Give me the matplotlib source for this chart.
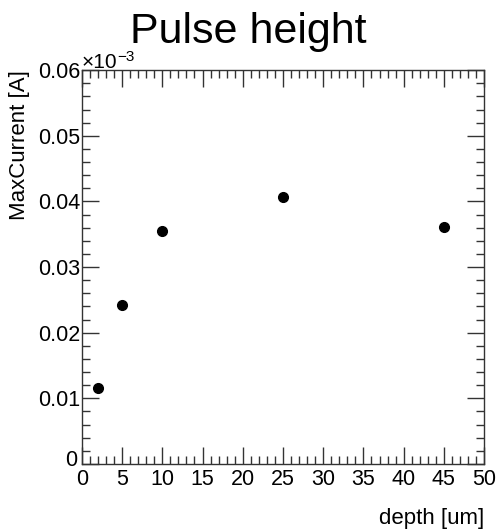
import matplotlib
matplotlib.use("Agg")
import matplotlib.pyplot as plt
import matplotlib.transforms as mtransforms
from matplotlib.ticker import MultipleLocator

# data (y in units of 1e-3 A, as the axis shows)
depth = [2, 5, 10, 25, 45]
max_current = [0.0116, 0.0242, 0.0355, 0.0407, 0.0361]
x_ticks = [0, 5, 10, 15, 20, 25, 30, 35, 40, 45, 50]
y_ticks = [0, 0.01, 0.02, 0.03, 0.04, 0.05, 0.06]
y_tick_labels = ['0', '0.01', '0.02', '0.03', '0.04', '0.05', '0.06']

plt.rcParams['font.family'] = ['Liberation Sans', 'DejaVu Sans']

fig = plt.figure(figsize=(4.96, 5.32), dpi=100)
ax = fig.add_axes([0.165, 0.128, 0.811, 0.74])

ax.plot(depth, max_current, 'o', color='black', markersize=7)

ax.set_xlim(0, 50)
ax.set_ylim(0, 0.06)

ax.set_xticks(x_ticks)
ax.set_xticklabels([str(v) for v in x_ticks])
ax.xaxis.set_minor_locator(MultipleLocator(1))
ax.set_yticks(y_ticks)
ax.set_yticklabels(y_tick_labels)
ax.yaxis.set_minor_locator(MultipleLocator(0.002))

ax.tick_params(which='both', direction='in', top=True, right=True,
               labelsize=15.5, width=1, color='#333333')
ax.tick_params(which='major', length=12)
ax.tick_params(which='minor', length=6)
ax.tick_params(axis='x', pad=4)
ax.tick_params(axis='y', pad=1)
for s in ax.spines.values():
    s.set_color('#333333')
    s.set_linewidth(1)

# nudge the y "0" up a little, as ROOT does
lab0 = ax.get_yticklabels()[0]
lab0.set_transform(lab0.get_transform() +
                   mtransforms.ScaledTranslation(-2 / 72, 4 / 72, fig.dpi_scale_trans))

# exponent marker, ROOT style
fig.text(82 / 496, 1 - 68 / 532, '\u00d710', fontsize=15,
         ha='left', va='baseline')
fig.text(117 / 496, 1 - 61 / 532, '\u22123', fontsize=11,
         ha='left', va='baseline')

fig.text(0.5, 1 - 43 / 532, 'Pulse height', fontsize=31,
         ha='center', va='baseline')
fig.text(0.976, 0.026, 'depth [um]', fontsize=16, ha='right', va='center')
fig.text(0.04, 0.868, 'MaxCurrent [A]', fontsize=16, rotation=90,
         ha='center', va='top')

fig.savefig('out.png', dpi=100)
